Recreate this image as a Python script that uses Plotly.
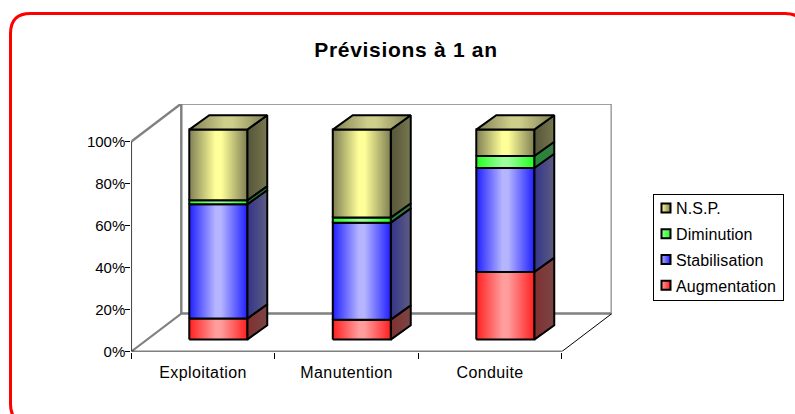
import numpy as np
import plotly.graph_objects as go

categories = ["Exploitation", "Manutention", "Conduite"]
series_names = ["Augmentation", "Stabilisation", "Diminution", "N.S.P."]
augmentation = [10.0, 9.5, 32.2]
stabilisation = [54.4, 46.2, 49.5]
diminution = [1.9, 2.4, 5.7]
nsp = [33.7, 41.9, 12.6]
y_tick_values = [0, 20, 40, 60, 80, 100]
y_tick_labels = ["0%", "20%", "40%", "60%", "80%", "100%"]

W, H = 795, 414
X0, X1, Y0, Y1 = 131.3, 611.7, 351.6, 104.0
PX_X, PX_Y = 143.5, 2.1
WALL_DX, WALL_DY = 50.0 / PX_X, 38.0 / PX_Y
BAR_OFF, BAR_W = 0.404, 0.404
BAR_DX, BAR_DY = 20.0 / PX_X, 14.3 / PX_Y
BAR_BASE = 12.0 / PX_Y

faces = {
    "Augmentation": dict(edge="#ff2020", mid="#ff9c9c", s0="#803030", s1="#7a4545"),
    "Stabilisation": dict(edge="#2020ff", mid="#b4b4ff", s0="#34348c", s1="#5c5c80"),
    "Diminution": dict(edge="#20ff20", mid="#9cff9c", s0="#1f8a2f", s1="#3a7a48"),
    "N.S.P.": dict(edge="#7f7f55", mid="#ffff99", s0="#55553a", s1="#77774f"),
}
values = [augmentation, stabilisation, diminution, nsp]


def grad(a, b):
    return dict(type="horizontal",
                colorscale=[[0, a], [0.45, b], [0.55, b], [1, a]])


def face(xs, ys, fg):
    return go.Scatter(x=xs, y=ys, mode="lines", fill="toself", fillgradient=fg,
                      line=dict(color="black", width=2, shape="linear"),
                      showlegend=False, hoverinfo="skip", cliponaxis=False)


def line(xs, ys, color, width):
    return go.Scatter(x=xs, y=ys, mode="lines", line=dict(color=color, width=width),
                      showlegend=False, hoverinfo="skip", cliponaxis=False)


fig = go.Figure()

# Walls and floor of the 3D box
n = len(categories)
fig.add_trace(line([0, WALL_DX, WALL_DX, n + WALL_DX, n + WALL_DX, WALL_DX, WALL_DX],
                   [100, 100 + WALL_DY, WALL_DY, WALL_DY, 100 + WALL_DY, 100 + WALL_DY, WALL_DY],
                   "#808080", 2.5))
fig.add_trace(line([0, WALL_DX], [0, WALL_DY], "#808080", 2))
fig.add_trace(line([n, n + WALL_DX], [0, WALL_DY], "black", 1))
fig.add_trace(line([0, 0, n], [100, 0, 0], "black", 1.5))

# Stacked 3D bars
bottoms = np.zeros(n)
for name, vals in zip(series_names, values):
    st = faces[name]
    for i in range(n):
        x0 = i + BAR_OFF
        x1 = x0 + BAR_W
        b = BAR_BASE + bottoms[i]
        t = b + vals[i]
        fig.add_trace(face([x1, x1 + BAR_DX, x1 + BAR_DX, x1, x1],
                           [b, b + BAR_DY, t + BAR_DY, t, b],
                           dict(type="horizontal", colorscale=[[0, st["s0"]], [1, st["s1"]]])))
        fig.add_trace(face([x0, x1, x1, x0, x0], [b, b, t, t, b], grad(st["edge"], st["mid"])))
        if name == "N.S.P.":
            fig.add_trace(face([x0, x1, x1 + BAR_DX, x0 + BAR_DX, x0],
                               [t, t, t + BAR_DY, t + BAR_DY, t],
                               grad("#7f7f55", "#cfcf8c")))
    bottoms = bottoms + np.array(vals)

# Legend entries (top to bottom)
for name in reversed(series_names):
    st = faces[name]
    fig.add_trace(go.Scatter(
        x=[None], y=[None], mode="markers", name=name, legendgroup=name,
        marker=dict(symbol="square", size=9, color=st["mid"],
                    gradient=dict(type="horizontal", color=st["edge"]),
                    line=dict(color="black", width=2)),
        hoverinfo="skip"))

font = "Liberation Sans, Arial, sans-serif"
r = 20
L, T, R, B = 10.5 / W, 1 - 13.5 / H, 805 / W, 1 - 424 / H
rx, ry = r / W, r / H
border = (f"M {L+rx},{T} L {R-rx},{T} Q {R},{T} {R},{T-ry} L {R},{B+ry} Q {R},{B} {R-rx},{B} "
          f"L {L+rx},{B} Q {L},{B} {L},{B+ry} L {L},{T-ry} Q {L},{T} {L+rx},{T} Z")

fig.update_layout(
    width=W, height=H, margin=dict(l=0, r=0, t=0, b=0, autoexpand=False),
    paper_bgcolor="white", plot_bgcolor="white",
    font=dict(family=font, size=15, color="black"),
    title=dict(text="<b>Prévisions à 1 an</b>", x=406 / W, xanchor="center",
               y=1 - 50 / H, yanchor="middle", font=dict(size=21, color="black")),
    xaxis=dict(domain=[X0 / W, X1 / W], range=[0, (X1 - X0) / PX_X],
               tickmode="array", tickvals=[0.5, 1.5, 2.5], ticktext=categories,
               tickfont=dict(size=16),
               showgrid=False, zeroline=False, showline=False, ticks="", ticklen=0,
               ticklabelstandoff=9, fixedrange=True,
               minor=dict(tickmode="array", tickvals=list(range(n + 1)), ticks="outside",
                          ticklen=6, tickwidth=1, tickcolor="black", showgrid=False)),
    yaxis=dict(domain=[1 - Y0 / H, 1 - Y1 / H], range=[0, (Y0 - Y1) / PX_Y],
               tickmode="array", tickvals=y_tick_values, ticktext=y_tick_labels,
               tickfont=dict(size=15), ticklabelstandoff=-3,
               showgrid=False, zeroline=False, showline=False, ticks="outside",
               ticklen=5, tickwidth=1, tickcolor="black", fixedrange=True),
    showlegend=True,
    legend=dict(x=653 / W, xanchor="left", y=1 - 194 / H, yanchor="top",
                bgcolor="white", bordercolor="black", borderwidth=1,
                font=dict(size=16), tracegroupgap=2, traceorder="grouped",
                entrywidth=75, entrywidthmode="pixels", itemclick=False, itemdoubleclick=False),
    shapes=[dict(type="path", path=border, xref="paper", yref="paper",
                 line=dict(color="#ff0000", width=3), layer="below")],
)

post = """
document.body.style.margin='0';
var g = document.querySelector('.js-plotly-plot');
g.querySelectorAll('.xtick text').forEach(function(t){t.style.letterSpacing='0.4px';});
g.querySelectorAll('.legendtext').forEach(function(t){t.style.letterSpacing='0.1px';t.setAttribute('x','22');});
g.querySelectorAll('.gtitle').forEach(function(t){t.style.letterSpacing='0.7px';});
g.querySelectorAll('.legendpoints .scatterpts').forEach(function(t){t.setAttribute('transform','translate(12,0)');});
g.querySelectorAll('.legend rect.bg').forEach(function(t){t.setAttribute('width','130');t.setAttribute('height','106');});
g.querySelectorAll('.legend .groups').forEach(function(t){
  var tr = t.getAttribute('transform') || '';
  t.setAttribute('transform', tr + ' translate(0,-4)');
});
"""
fig.write_html("out.html", post_script=post, config=dict(displayModeBar=False))
